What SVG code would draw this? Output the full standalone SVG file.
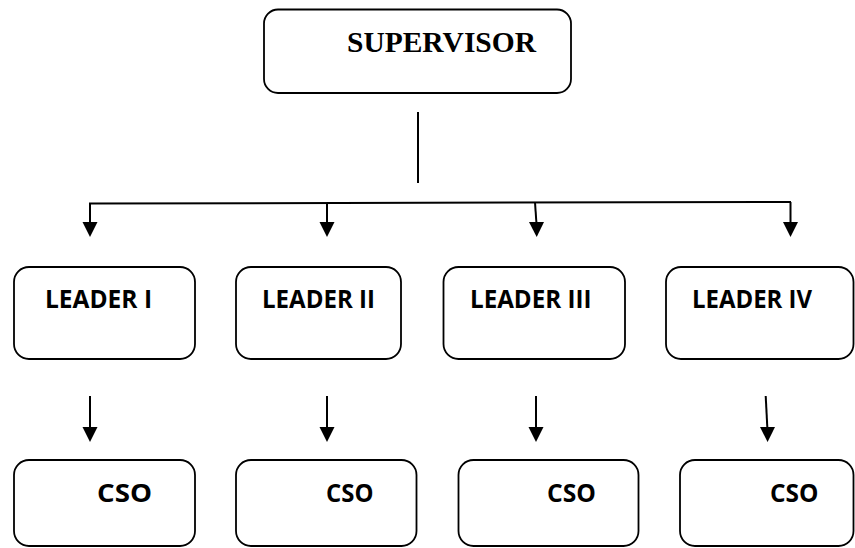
<svg xmlns="http://www.w3.org/2000/svg" width="855" height="548" viewBox="0 0 855 548">
<defs>
<style>
.box{fill:#fff;stroke:#000;stroke-width:1.8}
.ln{fill:none;stroke:#000;stroke-width:2}
.hd{fill:#000}
.t1{font-family:"Liberation Serif","Times New Roman",serif;font-weight:bold;font-size:29px;fill:#000}
.t2{font-family:"Open Sans","Liberation Sans",sans-serif;font-weight:bold;font-size:25px;fill:#000}
</style>
</defs>
<rect width="855" height="548" fill="#fff"/>
<g id="connectors">
<line class="ln" x1="418" y1="112" x2="418" y2="183"/>
<line class="ln" x1="89" y1="203.5" x2="791" y2="202"/>
<line class="ln" x1="90" y1="203.5" x2="90" y2="224"/>
<polygon class="hd" points="82.5,222 97.5,222 90,237"/>
<line class="ln" x1="327" y1="203" x2="327" y2="224"/>
<polygon class="hd" points="319.5,222 334.5,222 327,237"/>
<line class="ln" x1="535" y1="202.5" x2="536.5" y2="224"/>
<polygon class="hd" points="529,222 544,222 536.7,237"/>
<line class="ln" x1="790.5" y1="202" x2="790.5" y2="224"/>
<polygon class="hd" points="783,222 798,222 790.5,237"/>
<line class="ln" x1="90" y1="396" x2="90" y2="429"/>
<polygon class="hd" points="82.5,427 97.5,427 90,442"/>
<line class="ln" x1="327" y1="396" x2="327" y2="429"/>
<polygon class="hd" points="319.5,427 334.5,427 327,442"/>
<line class="ln" x1="536" y1="396" x2="536" y2="429"/>
<polygon class="hd" points="528.5,427 543.5,427 536,442"/>
<line class="ln" x1="765.7" y1="396" x2="767.4" y2="429"/>
<polygon class="hd" points="760,427 775,427 767.6,442"/>
</g>
<g id="supervisor">
<rect class="box" x="264" y="9.5" width="307" height="83.5" rx="14"/>
<text class="t1" x="347" y="52" textLength="189" lengthAdjust="spacingAndGlyphs">SUPERVISOR</text>
</g>
<g id="leader1">
<rect class="box" x="14" y="267" width="181" height="92" rx="15"/>
<text class="t2" x="45" y="308" textLength="107" lengthAdjust="spacingAndGlyphs">LEADER I</text>
</g>
<g id="leader2">
<rect class="box" x="236" y="267" width="165" height="92" rx="15"/>
<text class="t2" x="262" y="308" textLength="113" lengthAdjust="spacingAndGlyphs">LEADER II</text>
</g>
<g id="leader3">
<rect class="box" x="443.5" y="267" width="181.5" height="92" rx="15"/>
<text class="t2" x="470" y="308" textLength="121.5" lengthAdjust="spacingAndGlyphs">LEADER III</text>
</g>
<g id="leader4">
<rect class="box" x="666" y="267" width="187.5" height="92" rx="15"/>
<text class="t2" x="692" y="308" textLength="120" lengthAdjust="spacingAndGlyphs">LEADER IV</text>
</g>
<g id="cso1">
<rect class="box" x="14" y="460" width="181" height="86" rx="15"/>
<text class="t2" x="97" y="501.5" textLength="55" lengthAdjust="spacingAndGlyphs">CSO</text>
</g>
<g id="cso2">
<rect class="box" x="236" y="460" width="180.5" height="86" rx="15"/>
<text class="t2" x="326" y="501.5" textLength="47.5" lengthAdjust="spacingAndGlyphs">CSO</text>
</g>
<g id="cso3">
<rect class="box" x="458.5" y="460" width="180" height="86" rx="15"/>
<text class="t2" x="547" y="501.5" textLength="49" lengthAdjust="spacingAndGlyphs">CSO</text>
</g>
<g id="cso4">
<rect class="box" x="680" y="460" width="173.5" height="86" rx="15"/>
<text class="t2" x="770" y="501.5" textLength="48.5" lengthAdjust="spacingAndGlyphs">CSO</text>
</g>
</svg>
